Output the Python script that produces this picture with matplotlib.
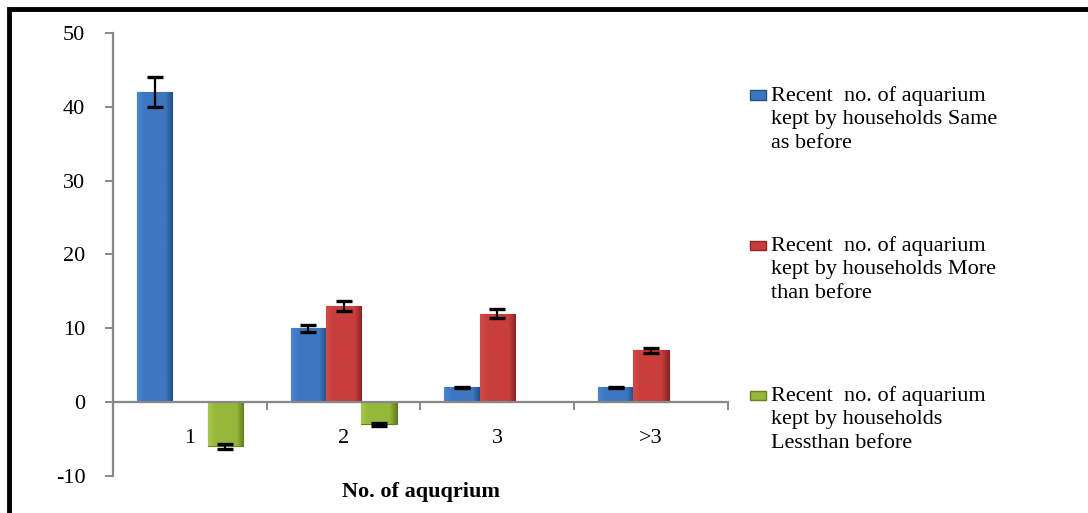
import numpy as np
import matplotlib.pyplot as plt
from matplotlib.patches import Rectangle
from matplotlib.colors import LinearSegmentedColormap

# dados
categories = ["1", "2", "3", ">3"]
same = [42, 10, 2, 2]
more = [np.nan, 13, 12, 7]
less = [-6, -3, np.nan, np.nan]
err_same = [2.0, 0.5, 0.05, 0.05]
err_more = [np.nan, 0.7, 0.6, 0.4]
err_less = [0.3, 0.2, np.nan, np.nan]

labels = [
    "Recent  no. of aquarium\nkept by households Same\nas before",
    "Recent  no. of aquarium\nkept by households More\nthan before",
    "Recent  no. of aquarium\nkept by households\nLessthan before",
]
# borda clara, centro, borda escura
shades = [("#4a86cf", "#3d77c0", "#244f86"),
          ("#d24a48", "#c93e3c", "#8a2625"),
          ("#a8c64a", "#96b83a", "#667f20")]

plt.rcParams["font.family"] = ["Liberation Serif", "DejaVu Serif"]
plt.rcParams["axes.unicode_minus"] = False

fig = plt.figure(figsize=(10.88, 5.13), dpi=100)
ax = fig.add_axes([0.1039, 0.0721, 0.565, 0.8636])

x = np.arange(len(categories))
w = 0.23
series = [same, more, less]
errs = [err_same, err_more, err_less]
grad = np.linspace(0, 1, 64).reshape(1, -1)
for i, (vals, e) in enumerate(zip(series, errs)):
    light, mid, dark = shades[i]
    cmap = LinearSegmentedColormap.from_list(
        "b%d" % i, [(0, light), (0.2, mid), (0.8, mid), (1, dark)])
    pos = x + (i - 1) * w
    bars = ax.bar(pos, vals, width=w, color=mid, edgecolor=dark,
                  linewidth=0.8, zorder=3)
    # gradiente horizontal dentro de cada barra
    for b in bars:
        h = b.get_height()
        if np.isnan(h) or h == 0:
            continue
        x0 = b.get_x()
        y0, y1 = sorted([b.get_y(), b.get_y() + h])
        im = ax.imshow(grad, cmap=cmap, aspect="auto", zorder=3.5,
                       extent=(x0, x0 + b.get_width(), y0, y1))
        im.set_clip_path(b)
    ax.errorbar(pos, vals, yerr=e, fmt="none", ecolor="black",
                elinewidth=1.6, capsize=6, capthick=2.4, zorder=4)

ax.set_xlim(-0.5, len(categories) - 0.5)
ax.set_ylim(-10, 50)
ax.set_yticks(range(-10, 51, 10))

# eixo x na linha do zero
ax.spines["bottom"].set_position(("data", 0))
for s in ["top", "right"]:
    ax.spines[s].set_visible(False)
for s in ["left", "bottom"]:
    ax.spines[s].set_color("#888888")
    ax.spines[s].set_linewidth(1.6)
    ax.spines[s].set_zorder(5)

ax.set_xticks(np.arange(-0.5, len(categories), 1.0))
ax.set_xticklabels([])
ax.set_xticks(x, minor=True)
ax.set_xticklabels(categories, minor=True)
ax.tick_params(axis="x", which="major", direction="out", length=6,
               color="#888888", width=1.4)
ax.tick_params(axis="x", which="minor", length=0, pad=19, labelsize=16)
ax.tick_params(axis="y", direction="out", length=6, color="#888888",
               width=1.4, pad=14, labelsize=16)

fig.text(0.387, 0.04, "No. of aquqrium", ha="center", va="center",
         fontsize=16, fontweight="bold")

# legenda manual
leg_y = [95, 245, 395]
for i in range(3):
    yc = 1 - leg_y[i] / 513
    light, mid, dark = shades[i]
    fig.add_artist(Rectangle((750 / 1088, yc - 4.5 / 513), 16 / 1088, 9 / 513,
                             transform=fig.transFigure, facecolor=mid,
                             edgecolor=dark, linewidth=1.0))
    fig.text(771 / 1088, yc + 9 / 513, labels[i], ha="left", va="top",
             fontsize=16, linespacing=1.32)

# moldura preta
fig.add_artist(Rectangle((0.0087, -0.05), 1.2, 1.0315, transform=fig.transFigure,
                         fill=False, edgecolor="black", linewidth=3.5))

plt.savefig("out.png")
